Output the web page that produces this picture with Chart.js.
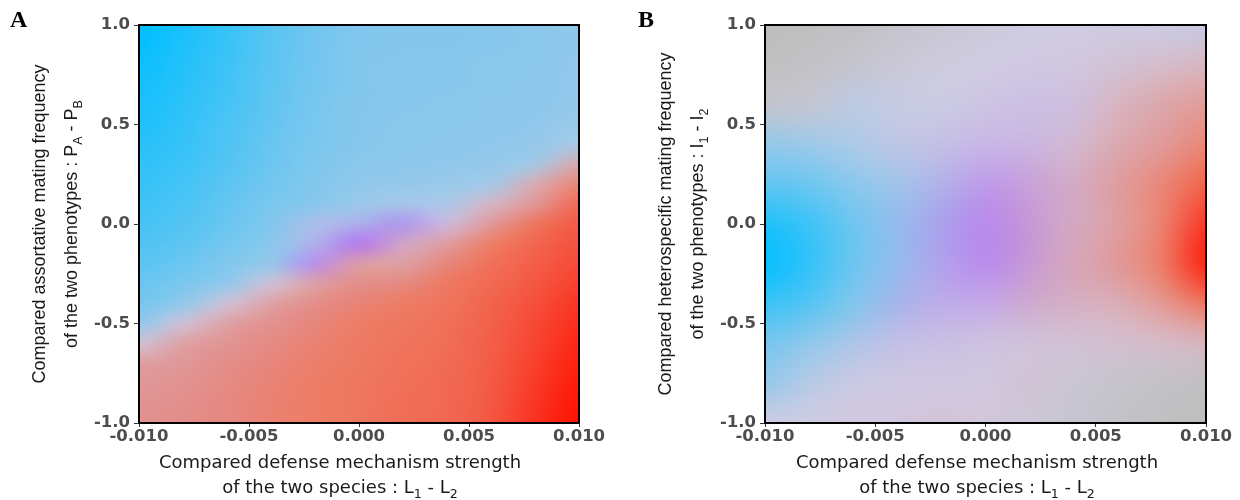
<!DOCTYPE html>
<html>
<head>
<meta charset="utf-8">
<script src="https://cdn.jsdelivr.net/npm/chart.js@4.4.1/dist/chart.umd.min.js"></script>
<style>
  body { margin: 0; background: #fff; }
  #wrap { position: relative; width: 1240px; height: 500px; }
  .panel { position: absolute; top: 0; width: 620px; height: 500px; }
</style>
</head>
<body>
<div id="wrap">
  <div class="panel" style="left:0"><canvas id="chartA" width="620" height="500"></canvas></div>
  <div class="panel" style="left:620px"><canvas id="chartB" width="620" height="500"></canvas></div>
</div>
<script>
// grid positions (x = L1 - L2, y = compared frequency)
const xCols = [-0.010, -0.008, -0.006, -0.004, -0.002, 0.000, 0.002, 0.004, 0.006, 0.008, 0.010];
const yRowsA = [1.0, 0.9, 0.8, 0.7, 0.6, 0.5, 0.4, 0.3, 0.2, 0.1, 0.0,
                -0.1, -0.2, -0.3, -0.4, -0.5, -0.6, -0.7, -0.8, -0.9, -1.0];
const yRowsB = [1.0, 0.8, 0.6, 0.4, 0.2, 0.0, -0.2, -0.4, -0.6, -0.8, -1.0];

const xTicks = [-0.010, -0.005, 0.000, 0.005, 0.010];
const xTickLabels = ['-0.010', '-0.005', '0.000', '0.005', '0.010'];
const yTicks = [-1.0, -0.5, 0.0, 0.5, 1.0];
const yTickLabels = ['-1.0', '-0.5', '0.0', '0.5', '1.0'];

// outcome: -1 = blue side, 0 = mixed (purple), +1 = red side
const outcomeA = [
  [-1, -1, -1, -1, -1, -1, -1, -1, -1, -1, -1],
  [-1, -1, -1, -1, -1, -1, -1, -1, -1, -1, -1],
  [-1, -1, -1, -1, -1, -1, -1, -1, -1, -1, -1],
  [-1, -1, -1, -1, -1, -1, -1, -1, -1, -1, -1],
  [-1, -1, -1, -1, -1, -1, -1, -1, -1, -1, -1],
  [-1, -1, -1, -1, -1, -1, -1, -1, -1, -1, -1],
  [-1, -1, -1, -1, -1, -1, -1, -1, -1, -1, -1],
  [-1, -1, -1, -1, -1, -1, -1, -1, -1, -1, 0.45],
  [-1, -1, -1, -1, -1, -1, -1, -1, -1, 0.45, 0.5],
  [-1, -1, -1, -1, -1, -1, -0.8, -0.9, 0.4, 0.45, 0.6],
  [-1, -1, -1, -1, -0.5, -0.3, -0.1, 0.1, 0.45, 0.55, 0.68],
  [-1, -1, -1, -1, -0.3, 0, 0.25, 0.45, 0.5, 0.62, 0.72],
  [-1, -1, -1, -1, 0, 0.45, 0.45, 0.46, 0.56, 0.66, 0.76],
  [-1, -1, -1, 0.3, 0.45, 0.45, 0.45, 0.52, 0.6, 0.7, 0.8],
  [-1, -1, 0.3, 0.45, 0.45, 0.47, 0.5, 0.55, 0.63, 0.73, 0.84],
  [-1, 0.3, 0.45, 0.45, 0.46, 0.5, 0.53, 0.57, 0.65, 0.76, 0.87],
  [0.3, 0.45, 0.45, 0.45, 0.48, 0.51, 0.55, 0.58, 0.66, 0.78, 0.9],
  [0.45, 0.45, 0.45, 0.46, 0.49, 0.52, 0.56, 0.59, 0.67, 0.8, 0.93],
  [0.45, 0.45, 0.45, 0.47, 0.5, 0.53, 0.57, 0.6, 0.68, 0.82, 0.95],
  [0.45, 0.45, 0.45, 0.48, 0.5, 0.53, 0.58, 0.6, 0.69, 0.84, 0.98],
  [0.45, 0.45, 0.45, 0.48, 0.5, 0.54, 0.58, 0.61, 0.7, 0.86, 1.0]
];

// intensity: 1 = full colour, 0 = pale lavender, negative = towards plain grey
const intensityA = [
  [1.0, 0.88, 0.74, 0.58, 0.46, 0.38, 0.36, 0.36, 0.35, 0.33, 0.31],
  [0.98, 0.86, 0.73, 0.57, 0.45, 0.38, 0.36, 0.36, 0.35, 0.33, 0.31],
  [0.94, 0.83, 0.71, 0.56, 0.45, 0.37, 0.35, 0.35, 0.33, 0.33, 0.3],
  [0.91, 0.81, 0.69, 0.55, 0.44, 0.37, 0.35, 0.35, 0.33, 0.32, 0.3],
  [0.88, 0.79, 0.67, 0.54, 0.43, 0.36, 0.35, 0.33, 0.32, 0.32, 0.29],
  [0.85, 0.76, 0.64, 0.52, 0.42, 0.36, 0.33, 0.33, 0.32, 0.31, 0.26],
  [0.81, 0.74, 0.62, 0.5, 0.41, 0.35, 0.33, 0.32, 0.31, 0.29, 0.19],
  [0.77, 0.71, 0.6, 0.48, 0.39, 0.33, 0.32, 0.31, 0.29, 0.22, 0.4],
  [0.74, 0.68, 0.56, 0.45, 0.37, 0.31, 0.29, 0.26, 0.22, 0.35, 0.7],
  [0.7, 0.64, 0.52, 0.42, 0.35, 0.26, 0.25, 0.2, 0.25, 0.54, 0.85],
  [0.67, 0.6, 0.49, 0.38, 0.35, 0.5, 0.75, 0.2, 0.52, 0.82, 0.87],
  [0.62, 0.55, 0.44, 0.33, 0.45, 1.0, 0.4, 0.48, 0.8, 0.85, 0.88],
  [0.57, 0.49, 0.38, 0.29, 0.75, 0.45, 0.45, 0.72, 0.83, 0.86, 0.9],
  [0.5, 0.41, 0.31, 0.12, 0.45, 0.64, 0.7, 0.81, 0.85, 0.87, 0.92],
  [0.43, 0.31, 0.12, 0.45, 0.64, 0.74, 0.8, 0.82, 0.86, 0.89, 0.94],
  [0.31, 0.12, 0.45, 0.6, 0.72, 0.8, 0.81, 0.83, 0.86, 0.9, 0.96],
  [0.12, 0.45, 0.57, 0.68, 0.76, 0.8, 0.82, 0.84, 0.86, 0.91, 0.97],
  [0.48, 0.54, 0.64, 0.72, 0.78, 0.81, 0.83, 0.84, 0.87, 0.92, 0.98],
  [0.54, 0.58, 0.68, 0.74, 0.8, 0.81, 0.83, 0.85, 0.87, 0.93, 0.99],
  [0.57, 0.62, 0.7, 0.76, 0.8, 0.81, 0.84, 0.85, 0.87, 0.94, 1],
  [0.6, 0.64, 0.7, 0.76, 0.8, 0.82, 0.84, 0.85, 0.87, 0.95, 1]
];

const outcomeB = [
  [0, 0, 0, 0, 0, 0, 0, 0, 0, -1, -1],
  [0, 0, 0, 0, 0, 0, 0, 0.3, 0.4, 0.45, 0.5],
  [0, 0, -1, -1, -1, 0, 0, 0.1, 0.45, 0.45, 0.5],
  [-1, -1, -1, -0.5, -0.2, 0, 0.05, 0.3, 0.45, 0.45, 0.5],
  [-1, -1, -1, -0.8, -0.3, 0, 0.1, 0.3, 0.45, 0.5, 0.6],
  [-1, -1, -1, -0.6, -0.2, 0, 0.1, 0.3, 0.45, 0.5, 0.9],
  [-1, -1, -1, -0.6, -0.15, 0, 0.1, 0.35, 0.45, 0.5, 0.95],
  [-1, -1, -1, -0.4, -0.1, 0, 0.2, 0.35, 0.45, 0.5, 0.55],
  [-1, -1, -0.7, -0.2, -0.1, 0.1, 0.3, 0.4, 0.45, 0.45, 0.5],
  [-1, -1, -0.5, 0, 0.1, 0.2, 0.45, 0, 0, 0, 0],
  [0, 0, 0.3, 0.3, 0.4, 0.45, 0, 0, 0, 0, 0]
];

const intensityB = [
  [-1, -0.95, -0.85, -0.6, -0.4, -0.2, -0.05, 0, -0.05, 0.03, 0.05],
  [-0.95, -0.8, -0.55, -0.3, -0.1, 0, 0.03, 0.05, 0.1, 0.15, 0.22],
  [-0.6, -0.45, 0.1, 0.05, 0.03, 0.1, 0.15, 0.15, 0.25, 0.4, 0.5],
  [0.3, 0.25, 0.17, 0.15, 0.2, 0.25, 0.25, 0.2, 0.35, 0.5, 0.7],
  [0.52, 0.48, 0.33, 0.3, 0.45, 0.6, 0.5, 0.35, 0.5, 0.7, 0.9],
  [0.87, 0.72, 0.48, 0.5, 0.65, 0.8, 0.6, 0.35, 0.45, 0.72, 0.9],
  [1, 0.77, 0.48, 0.5, 0.6, 0.78, 0.58, 0.4, 0.55, 0.8, 1],
  [0.72, 0.6, 0.38, 0.5, 0.42, 0.42, 0.38, 0.3, 0.3, 0.5, 0.8],
  [0.43, 0.3, 0.25, 0.2, 0.15, 0.1, 0.08, 0.1, 0.12, 0.15, 0.2],
  [0.3, 0.12, 0.04, 0.03, 0.05, 0.06, 0.1, -0.4, -0.6, -0.8, -0.95],
  [0, 0, 0.05, 0.06, 0.08, 0.05, -0.3, -0.5, -0.75, -0.9, -1]
];

// colour scale
const hueStops = [-1, -0.5, 0, 0.5, 1];
const hueColors = [[0, 191, 255], [110, 165, 245], [178, 118, 240], [245, 105, 70], [255, 16, 0]];
const paleColor = [208, 204, 226];
const greyColor = [190, 190, 190];

function mixRGB(a, b, t) {
  return [a[0] + (b[0] - a[0]) * t, a[1] + (b[1] - a[1]) * t, a[2] + (b[2] - a[2]) * t];
}

function hueAt(v) {
  let k = 0;
  while (k < hueStops.length - 2 && v > hueStops[k + 1]) k++;
  let t = (v - hueStops[k]) / (hueStops[k + 1] - hueStops[k]);
  return mixRGB(hueColors[k], hueColors[k + 1], Math.min(1, Math.max(0, t)));
}

function cellColor(v, w) {
  if (w < 0) return mixRGB(paleColor, greyColor, -w);
  return mixRGB(paleColor, hueAt(v), w);
}

function gridPoints(rows, values, weights) {
  const pts = [];
  rows.forEach((y, r) => {
    xCols.forEach((x, c) => {
      pts.push({ x: x, y: y, v: values[r][c], w: weights[r][c], row: r, col: c });
    });
  });
  return pts;
}

// paints the grid cells through the scales, smoothed like the raster of the original
const heatmapPlugin = {
  id: 'heatmap',
  beforeDatasetsDraw(chart) {
    const ds = chart.data.datasets[0];
    const pts = ds.data;
    const nx = ds.nCols, ny = ds.nRows, m = 2;
    const colors = [];
    pts.forEach(p => { colors[p.row * nx + p.col] = cellColor(p.v, p.w); });

    const off = document.createElement('canvas');
    off.width = nx + 2 * m;
    off.height = ny + 2 * m;
    const octx = off.getContext('2d');
    const img = octx.createImageData(off.width, off.height);
    for (let j = 0; j < off.height; j++) {
      for (let i = 0; i < off.width; i++) {
        const r = Math.min(ny - 1, Math.max(0, j - m));
        const c = Math.min(nx - 1, Math.max(0, i - m));
        const col = colors[r * nx + c];
        const k = (j * off.width + i) * 4;
        img.data[k] = Math.round(col[0]);
        img.data[k + 1] = Math.round(col[1]);
        img.data[k + 2] = Math.round(col[2]);
        img.data[k + 3] = 255;
      }
    }
    octx.putImageData(img, 0, 0);

    const xs = chart.scales.x, ys = chart.scales.y;
    const xv = pts.map(p => p.x), yv = pts.map(p => p.y);
    const px0 = xs.getPixelForValue(Math.min(...xv));
    const px1 = xs.getPixelForValue(Math.max(...xv));
    const py0 = ys.getPixelForValue(Math.max(...yv));
    const py1 = ys.getPixelForValue(Math.min(...yv));
    const cw = (px1 - px0) / (nx - 1);
    const ch = (py1 - py0) / (ny - 1);

    const ctx = chart.ctx, a = chart.chartArea;
    ctx.save();
    ctx.beginPath();
    ctx.rect(a.left, a.top, a.right - a.left, a.bottom - a.top);
    ctx.clip();
    ctx.imageSmoothingEnabled = true;
    ctx.imageSmoothingQuality = 'high';
    ctx.filter = 'blur(' + ds.blur + 'px)';
    ctx.drawImage(off, px0 - (m + 0.5) * cw, py0 - (m + 0.5) * ch, (nx + 2 * m) * cw, (ny + 2 * m) * ch);
    ctx.restore();
  }
};

// text with '_X' meaning subscript X
function drawRichLine(ctx, text, cx, baseY, family, size) {
  const parts = [];
  for (let i = 0; i < text.length; i++) {
    if (text[i] === '_') {
      parts.push({ t: text[i + 1], sub: true });
      i++;
    } else if (parts.length && !parts[parts.length - 1].sub) {
      parts[parts.length - 1].t += text[i];
    } else {
      parts.push({ t: text[i], sub: false });
    }
  }
  let total = 0;
  parts.forEach(p => {
    ctx.font = (p.sub ? size * 0.7 : size) + 'px ' + family;
    p.w = ctx.measureText(p.t).width;
    total += p.w;
  });
  let x = cx - total / 2;
  parts.forEach(p => {
    ctx.font = (p.sub ? size * 0.7 : size) + 'px ' + family;
    ctx.fillText(p.t, x, baseY + (p.sub ? size * 0.28 : 0));
    x += p.w;
  });
}

const framePlugin = {
  id: 'frame',
  afterDatasetsDraw(chart) {
    const ctx = chart.ctx, a = chart.chartArea;
    ctx.save();
    ctx.strokeStyle = '#000';
    ctx.lineWidth = 2;
    ctx.strokeRect(a.left, a.top, a.right - a.left, a.bottom - a.top);
    ctx.restore();
  },
  afterDraw(chart, args, opts) {
    const ctx = chart.ctx;
    ctx.save();
    ctx.fillStyle = '#000';
    ctx.textAlign = 'left';
    ctx.textBaseline = 'alphabetic';
    ctx.font = 'bold 24px "Liberation Serif", "DejaVu Serif", serif';
    ctx.fillText(opts.letter, opts.letterX, 27);

    ctx.fillStyle = '#1a1a1a';
    opts.xTitle.forEach((line, i) => {
      drawRichLine(ctx, line, opts.xTitleX, opts.xTitleY[i], '"DejaVu Sans", sans-serif', 18);
    });
    opts.yTitle.forEach((line, i) => {
      ctx.save();
      ctx.translate(opts.yTitleX[i], 224);
      ctx.rotate(-Math.PI / 2);
      drawRichLine(ctx, line, 0, 0, '"Liberation Sans", Arial, sans-serif', 18);
      ctx.restore();
    });
    ctx.restore();
  }
};

const tickFont = { family: '"DejaVu Sans", sans-serif', size: 16.5, weight: 'bold' };

function makeChart(id, rows, values, weights, panel) {
  return new Chart(document.getElementById(id), {
    type: 'scatter',
    data: {
      datasets: [{
        data: gridPoints(rows, values, weights),
        nCols: xCols.length,
        nRows: rows.length,
        blur: panel.blur,
        pointRadius: 0,
        pointHoverRadius: 0
      }]
    },
    options: {
      responsive: false,
      animation: false,
      events: [],
      layout: { padding: { left: 0, right: panel.padRight, top: 25, bottom: 0 } },
      plugins: {
        legend: { display: false },
        tooltip: { enabled: false },
        frame: panel
      },
      scales: {
        x: {
          type: 'linear',
          min: -0.01,
          max: 0.01,
          afterBuildTicks: s => { s.ticks = xTicks.map(v => ({ value: v })); },
          afterFit: s => { s.height = 77; },
          ticks: {
            callback: (v, i) => xTickLabels[i],
            font: tickFont,
            color: '#4d4d4d',
            padding: 0,
            maxRotation: 0,
            autoSkip: false
          },
          grid: { drawOnChartArea: false, tickLength: 4, color: '#333', lineWidth: 1 },
          border: { display: false }
        },
        y: {
          type: 'linear',
          min: -1,
          max: 1,
          afterBuildTicks: s => { s.ticks = yTicks.map(v => ({ value: v })); },
          afterFit: s => { s.width = panel.plotLeft; },
          ticks: {
            callback: (v, i) => yTickLabels[i],
            font: tickFont,
            color: '#4d4d4d',
            padding: 4,
            autoSkip: false
          },
          grid: { drawOnChartArea: false, tickLength: 5, color: '#333', lineWidth: 1 },
          border: { display: false }
        }
      }
    },
    plugins: [heatmapPlugin, framePlugin]
  });
}

makeChart('chartA', yRowsA, outcomeA, intensityA, {
  plotLeft: 139, padRight: 41, blur: 3,
  letter: 'A', letterX: 10,
  xTitle: ['Compared defense mechanism strength', 'of the two species : L_1 - L_2'],
  xTitleX: 340, xTitleY: [468, 493],
  yTitle: ['Compared assortative mating frequency', 'of the two phenotypes : P_A - P_B'],
  yTitleX: [45, 77]
});

makeChart('chartB', yRowsB, outcomeB, intensityB, {
  plotLeft: 145, padRight: 34, blur: 10,
  letter: 'B', letterX: 18,
  xTitle: ['Compared defense mechanism strength', 'of the two species : L_1 - L_2'],
  xTitleX: 357, xTitleY: [468, 493],
  yTitle: ['Compared heterospecific mating frequency', 'of the two phenotypes : I_1 - I_2'],
  yTitleX: [51, 83]
});
</script>
</body>
</html>
